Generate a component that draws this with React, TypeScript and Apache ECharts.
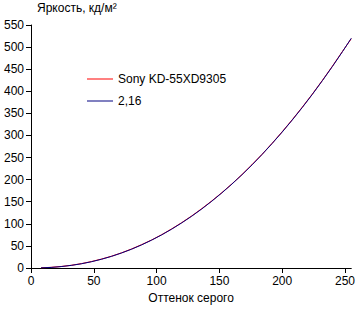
import React, { useEffect, useRef } from "react";
import * as echarts from "echarts";

const greyLevels = [8, 16, 24, 32, 40, 48, 56, 64, 72, 80, 88, 96, 104, 112, 120, 128, 136, 144, 152, 160, 168, 176, 184, 192, 200, 208, 216, 224, 232, 240, 248, 255];
const sonyValues = [0.4, 1.5, 3.4, 6.1, 9.8, 14.5, 20.1, 26.5, 34.2, 42.9, 52.8, 63.4, 75.3, 88.5, 102.6, 117.9, 134.4, 151.9, 170.6, 190.4, 211.5, 234.0, 257.4, 282.3, 308.4, 335.6, 364.0, 393.6, 424.6, 456.8, 490.2, 519.0];
const gammaValues = [0.3, 1.3, 3.2, 5.9, 9.5, 14.1, 19.7, 26.3, 33.9, 42.5, 52.2, 63.0, 74.9, 87.9, 102.1, 117.3, 133.7, 151.3, 170.1, 190.0, 211.1, 233.4, 257.0, 281.8, 307.7, 334.9, 363.3, 393.0, 424.0, 456.2, 489.7, 520.0];
const seriesNames = ["Sony KD-55XD9305", "2,16"];
const seriesColors = ["#ff0000", "#000080"];
const yTitle = "Яркость, кд/м²";
const xTitle = "Оттенок серого";

export default function App() {
  const ref = useRef<HTMLDivElement>(null);
  useEffect(() => {
    document.body.style.margin = "0";
    const chart = echarts.init(ref.current!, null, { renderer: "svg" });
    const font = "Liberation Sans, Arial, sans-serif";
    chart.setOption({
      animation: false,
      backgroundColor: "#ffffff",
      grid: { left: 31, right: 4, top: 25, bottom: 43, containLabel: false },
      legend: {
        orient: "vertical",
        left: 87,
        top: 72,
        padding: 0,
        itemGap: 8,
        itemWidth: 26,
        itemHeight: 1,
        icon: "rect",
        textStyle: { fontFamily: font, fontSize: 12, color: "#000", lineHeight: 14 },
        data: seriesNames,
      },
      xAxis: {
        type: "value",
        min: 0,
        max: 255,
        interval: 50,
        name: xTitle,
        nameLocation: "middle",
        nameGap: 24,
        nameTextStyle: { fontFamily: font, fontSize: 12, color: "#000" },
        axisLine: { lineStyle: { color: "#000", width: 1 } },
        axisTick: { length: 5, lineStyle: { color: "#000" } },
        axisLabel: { fontFamily: font, fontSize: 12, color: "#000", margin: 7, showMaxLabel: false },
        splitLine: { show: false },
      },
      yAxis: {
        type: "value",
        min: 0,
        max: 550,
        interval: 50,
        axisLine: { show: true, lineStyle: { color: "#000", width: 1 } },
        axisTick: { show: true, length: 5, lineStyle: { color: "#000" } },
        axisLabel: { fontFamily: font, fontSize: 12, color: "#000", margin: 7 },
        splitLine: { show: false },
      },
      graphic: [
        {
          type: "text",
          left: 37,
          top: 2,
          style: { text: yTitle, fontFamily: font, fontSize: 12, fill: "#000" },
        },
      ],
      series: seriesNames.map((name, k) => ({
        name,
        type: "line",
        showSymbol: false,
        symbol: "none",
        lineStyle: { color: seriesColors[k], width: 1 },
        itemStyle: { color: seriesColors[k] },
        data: greyLevels.map((g, i) => [g, (k === 0 ? sonyValues : gammaValues)[i]]),
      })),
    });
    return () => chart.dispose();
  }, []);
  return <div ref={ref} style={{ position: "absolute", left: 0, top: 0, width: 358, height: 311 }} />;
}
